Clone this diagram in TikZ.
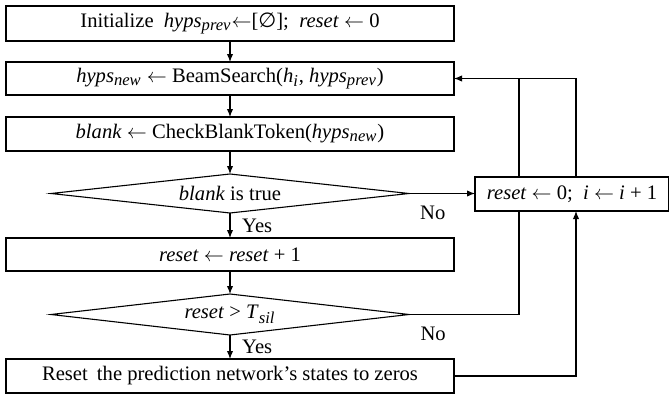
\documentclass[tikz,border=0pt]{standalone}
\usepackage{fontspec}
\setmainfont{Liberation Serif}
\newfontfamily\emptysetfont{DejaVu Sans}
\usetikzlibrary{arrows.meta, positioning, shapes.geometric, calc}

\newcommand{\var}[2]{\textit{#1}\textsubscript{\fontsize{8.3pt}{9pt}\selectfont\textit{#2}}}
\newcommand{\assign}{\ensuremath{\leftarrow}}

\begin{document}
\begin{tikzpicture}[
  font=\fontsize{10.3pt}{12pt}\selectfont,
  line width=0.55pt,
  box/.style={rectangle, draw, outer sep=0pt, minimum width=224pt, minimum height=17pt, inner sep=1pt},
  test/.style={diamond, draw, outer sep=0pt, aspect=9, minimum width=179pt, minimum height=20pt, inner sep=0pt},
  arr/.style={-{Latex[length=4pt,width=3.2pt]}}
]

\useasboundingbox (0,0) rectangle (334.5pt,-198pt);

\node[box, anchor=north west, minimum height=17.5pt] (init) at (3pt,-3pt)
  {Initialize~~\var{hyps}{prev}\assign[{\emptysetfont ∅}];~~\textit{reset} \assign{} 0};
\node[box, below=10.5pt of init, minimum height=16.5pt] (beam)
  {\var{hyps}{new} \assign{} BeamSearch(\var{h}{i}, \var{hyps}{prev})};
\node[box, below=11pt of beam] (check)
  {\textit{blank} \assign{} CheckBlankToken(\var{hyps}{new})};
\node[test, below=11.5pt of check, minimum height=19.5pt] (blank) {\textit{blank} is true};
\node[box, below=12.5pt of blank, minimum height=16.5pt] (inc)
  {\textit{reset} \assign{} \textit{reset} + 1};
\node[test, below=11.5pt of inc, minimum height=20.5pt] (thr) {\textit{reset} > \var{T}{sil}};
\node[box, below=12pt of thr, minimum height=17pt] (zero)
  {Reset\hspace{2pt} the prediction network’s states to zeros};
\node[box, right=33pt of blank, minimum width=97pt, yshift=-0.25pt] (rst)
  {\textit{reset} \assign{} 0;~~\textit{i} \assign{} \textit{i} + 1};

\coordinate (up1) at ($(rst.south west)+(22pt,0)$);
\coordinate (up2) at ($(rst.south west)+(50.5pt,0)$);

\draw[arr] (init) -- (beam);
\draw[arr] (beam) -- (check);
\draw[arr] (check) -- (blank);
\draw[arr] (blank) -- (inc) node[midway, right=2.5pt]{Yes};
\draw[arr] (inc) -- (thr);
\draw[arr] (thr) -- (zero) node[midway, right=2.5pt]{Yes};
\draw[arr] (blank.east) -- (blank.east -| rst.west) node[pos=0.36, below=2.5pt]{No};
\draw (thr.east) -| (up1) node[pos=0.11, below=2.5pt]{No};
\draw[arr] (up1 |- rst.north) |- (beam.east);
\draw (up2 |- rst.north) |- (up1 |- beam.east);
\draw[arr] (zero.east) -| (up2);

\end{tikzpicture}
\end{document}
